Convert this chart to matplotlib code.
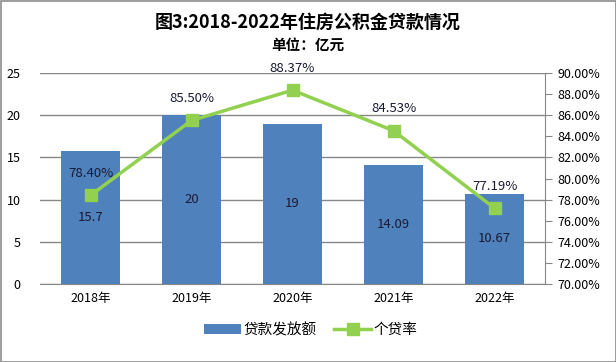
import matplotlib
matplotlib.use("Agg")
import matplotlib.pyplot as plt
from matplotlib.patches import Rectangle

plt.rcParams['font.family'] = ['Noto Sans CJK SC', 'DejaVu Sans']

years = ["2018年", "2019年", "2020年", "2021年", "2022年"]
loans = [15.7, 20, 19, 14.09, 10.67]
rates = [78.40, 85.50, 88.37, 84.53, 77.19]
loan_labels = ["15.7", "20", "19", "14.09", "10.67"]

bar_color = "#4F81BD"
line_color = "#92D050"
grid_color = "#878787"

fig = plt.figure(figsize=(6.16, 3.62), dpi=100)
ax = fig.add_axes([40/616, 1-284/362, (545-40)/616, (284-73)/362])
ax2 = ax.twinx()

x = list(range(len(years)))
bars = ax.bar(x, loans, width=0.575, color=bar_color, zorder=2, label="贷款发放额")
ax.set_ylim(0, 25)
ax.set_yticks([0, 5, 10, 15, 20, 25])
ax.set_xlim(-0.5, 4.5)
ax.set_xticks(x)
ax.set_xticklabels(years)
ax.yaxis.grid(True, color=grid_color, linewidth=1, zorder=0)
ax.set_axisbelow(True)
for s in ["top", "left", "right"]:
    ax.spines[s].set_visible(False)
ax.spines["bottom"].set_color(grid_color)
ax.tick_params(axis="y", length=0, pad=14, labelsize=9)
ax.tick_params(axis="x", length=0, pad=6, labelsize=9)

for xi, v, lab in zip(x, loans, loan_labels):
    ax.text(xi, v/2, lab, ha="center", va="center", fontsize=9.5, color="#1a1a33", zorder=5)

ax2.plot(x, rates, color=line_color, linewidth=2.5, marker="s", markersize=9,
         markerfacecolor=line_color, markeredgecolor=line_color, zorder=4, label="个贷率")
ax2.set_ylim(70, 90)
ax2.set_yticks([70 + 2*i for i in range(11)])
ax2.set_yticklabels([f"{70 + 2*i:.2f}%" for i in range(11)])
for s in ["top", "left", "bottom"]:
    ax2.spines[s].set_visible(False)
ax2.spines["right"].set_color(grid_color)
ax2.tick_params(axis="y", length=5, color=grid_color, direction="out", pad=4, labelsize=9)

for xi, r in zip(x, rates):
    ax2.annotate(f"{r:.2f}%", (xi, r), xytext=(0, 11), textcoords="offset points",
                 ha="center", va="bottom", fontsize=9.5, color="#1a1a33", zorder=6)

fig.text(0.5, 1-22/362, "图3:2018-2022年住房公积金贷款情况", ha="center", va="center",
         fontsize=13, fontweight="bold")
fig.text(0.5, 1-45/362, "单位：亿元", ha="center", va="center", fontsize=10.5, fontweight="bold")

h1, l1 = ax.get_legend_handles_labels()
h2, l2 = ax2.get_legend_handles_labels()
fig.legend(h1 + h2, l1 + l2, loc="center", bbox_to_anchor=(0.505, 1-330/362), ncol=2,
           frameon=False, fontsize=10.5, handlelength=2.5, handleheight=0.6, columnspacing=1.2,
           handletextpad=0.2)

fig.patches.append(Rectangle((0.5/616, 0.5/362), 1-1/616, 1-1/362, transform=fig.transFigure,
                             fill=False, edgecolor="#8c8c8c", linewidth=1.2))

fig.savefig("out.png", dpi=100)
